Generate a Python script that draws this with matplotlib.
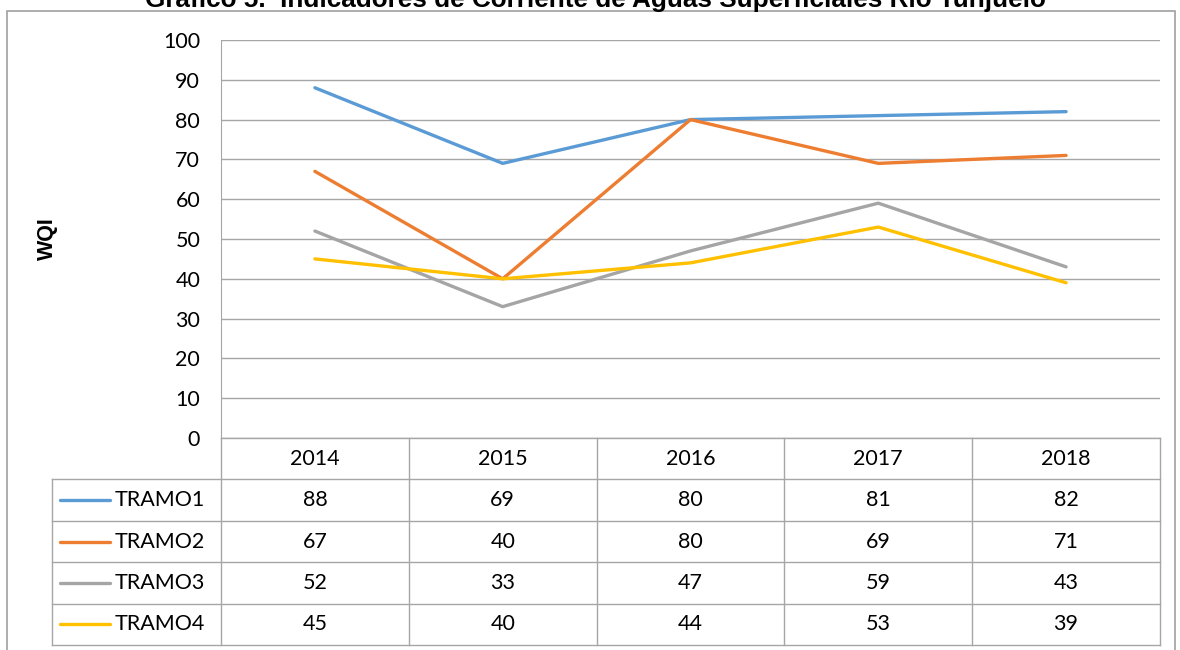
import matplotlib.pyplot as plt
from matplotlib.patches import Rectangle

years = ["2014", "2015", "2016", "2017", "2018"]
series_names = ["TRAMO1", "TRAMO2", "TRAMO3", "TRAMO4"]
tramo1 = [88, 69, 80, 81, 82]
tramo2 = [67, 40, 80, 69, 71]
tramo3 = [52, 33, 47, 59, 43]
tramo4 = [45, 40, 44, 53, 39]
colors = ["#5B9BD5", "#ED7D31", "#A5A5A5", "#FFC000"]

W, H = 1180, 650
grid_col = "#A6A6A6"
font = "Lato"
fsize = 15.5

fig = plt.figure(figsize=(W / 100, H / 100), dpi=100)

# outer chart frame (bottom runs past the image)
fig.patches.append(Rectangle((7 / W, -0.05), (1175 - 7) / W, 1 - 11 / H + 0.05,
                             transform=fig.transFigure, fill=False,
                             edgecolor="#A0A0A0", linewidth=1.2))

# title sits mostly above the image edge, as in the source
fig.text(595 / W, 1 - 7 / H,
         "Gráfico 5.  Indicadores de Corriente de Aguas Superficiales Río Tunjuelo",
         ha="center", va="baseline", fontsize=18.8, fontweight="bold",
         family="Liberation Sans")

# line plot area
ax = fig.add_axes([221 / W, 1 - 438 / H, 939 / W, (438 - 40) / H])
x = [i + 0.5 for i in range(len(years))]
for vals, c in zip([tramo1, tramo2, tramo3, tramo4], colors):
    ax.plot(x, vals, color=c, linewidth=2.4, solid_capstyle="round")
ax.set_xlim(0, len(years))
ax.set_ylim(0, 100)
ax.set_yticks(range(0, 101, 10))
ax.yaxis.grid(True, color=grid_col, linewidth=1)
ax.set_axisbelow(True)
ax.set_xticks([])
ax.tick_params(axis="y", length=0, pad=15, labelsize=fsize)
for lab in ax.get_yticklabels():
    lab.set_family(font)
for s in ["top", "right", "bottom"]:
    ax.spines[s].set_visible(False)
ax.spines["left"].set_color(grid_col)
ax.set_ylabel("WQI", fontsize=15.5, fontweight="bold", family="Liberation Sans")
ax.yaxis.set_label_coords((58 - 221) / 939, 0.5)

# data table under the plot
tab = fig.add_axes([221 / W, 1 - 645 / H, 939 / W, 207 / H])
tab.set_xlim(0, len(years))
tab.set_ylim(len(series_names) + 1, 0)
tab.axis("off")
leg_left = -(221 - 52) / 188
lkw = dict(color=grid_col, linewidth=1, clip_on=False)
for i in range(len(years) + 1):
    tab.plot([i, i], [0, len(series_names) + 1], **lkw)
tab.plot([0, len(years)], [0, 0], **lkw)
for r in range(1, len(series_names) + 2):
    tab.plot([leg_left, len(years)], [r, r], **lkw)
tab.plot([leg_left, leg_left], [1, len(series_names) + 1], **lkw)

for i, yr in enumerate(years):
    tab.text(i + 0.5, 0.5, yr, ha="center", va="center", fontsize=fsize, family=font)
for r, (name, vals, c) in enumerate(zip(series_names,
                                        [tramo1, tramo2, tramo3, tramo4], colors)):
    yy = r + 1.5
    for i, v in enumerate(vals):
        tab.text(i + 0.5, yy, str(v), ha="center", va="center", fontsize=fsize,
                 family=font)
    tab.plot([leg_left + 0.04, leg_left + 0.31], [yy, yy], color=c, linewidth=2.4,
             clip_on=False, solid_capstyle="round")
    tab.text(leg_left + 0.33, yy, name, ha="left", va="center", fontsize=fsize,
             family=font)

fig.savefig("out.png", dpi=100)
